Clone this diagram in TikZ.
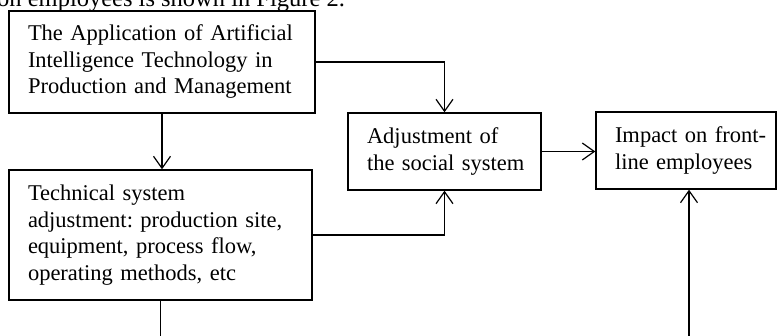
\documentclass[tikz,border=0pt]{standalone}
\usepackage{fontspec}
\setmainfont{Liberation Serif}
\usetikzlibrary{arrows.meta}
\frenchspacing
\begin{document}
\begin{tikzpicture}[x=1pt,y=-1pt,
  box/.style={draw,line width=1.4pt,rectangle,inner sep=0pt,align=left,
    font=\fontsize{22.5}{26.5}\selectfont},
  conn/.style={line width=1.2pt},
  arr/.style={conn,-{Straight Barb[length=12pt,width=17pt,line width=1.2pt]}}]
\useasboundingbox (0,0) rectangle (777,336);
\clip (0,0) rectangle (777,336);
\node[anchor=base west,inner sep=0pt,font=\fontsize{24.5}{28}\selectfont] (cap) at (-3,7) {on employees is shown in Figure 2.};
\node[box,minimum width=306pt,minimum height=102pt,text width=268pt] (A) at (162,62)
  {\mbox{The Application of Artificial}\\\mbox{Intelligence Technology in}\\\mbox{Production and Management}};
\node[box,minimum width=303pt,minimum height=130pt,text width=265pt] (B) at (160.5,235)
  {\mbox{Technical system}\\\mbox{adjustment: production site,}\\\mbox{equipment, process flow,}\\\mbox{operating methods, etc}};
\node[box,minimum width=193pt,minimum height=77pt,text width=155pt] (C) at (444.5,151.5)
  {\mbox{Adjustment of}\\\mbox{the social system}};
\node[box,minimum width=180pt,minimum height=77pt,text width=142pt] (D) at (686,150.5)
  {\mbox{Impact on front-}\\\mbox{line employees}};
\coordinate (bout) at (161,345);
\coordinate (din) at (689,345);
\draw[arr] (A.east) -| (C.north);
\draw[arr] (B.east) -| (C.south);
\draw[arr] (A.south) -- (A.south |- B.north);
\draw[conn] (B.south) -- (B.south |- bout);
\draw[arr] (C.east) -- (C.east -| D.west);
\draw[arr] (din) -- (din |- D.south);
\end{tikzpicture}
\end{document}
